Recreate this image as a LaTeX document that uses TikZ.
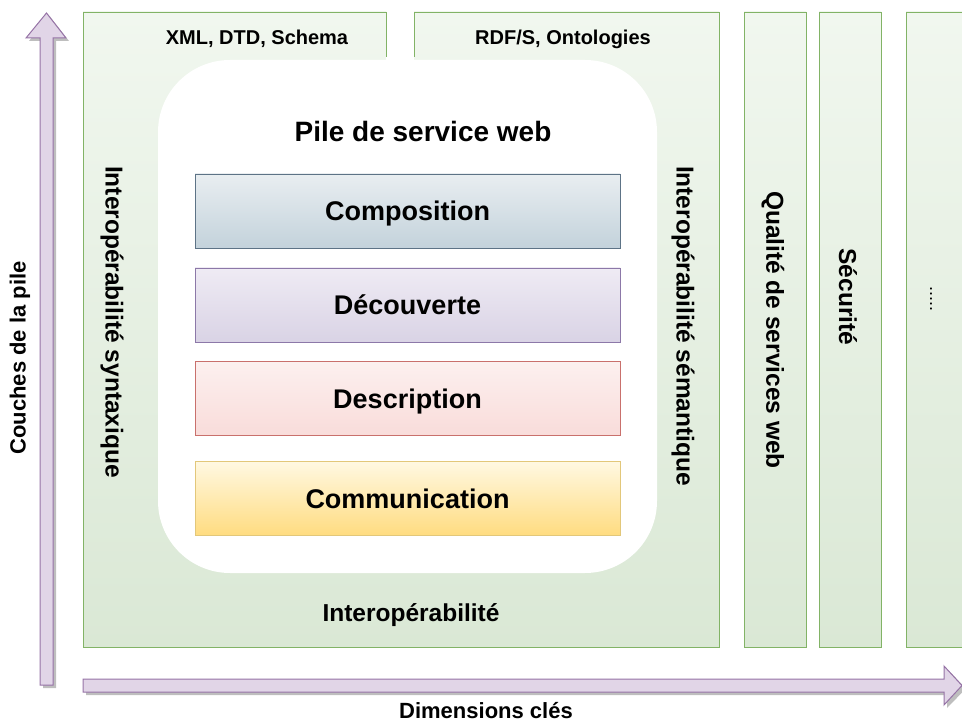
\documentclass[tikz,border=0pt]{standalone}
\usepackage{fontspec}
\setmainfont{Liberation Sans}
\definecolor{grnfill}{HTML}{DAE8D5}
\definecolor{grnlight}{HTML}{F1F7EF}
\definecolor{grnline}{HTML}{82B366}
\definecolor{purfill}{HTML}{E1D5E7}
\definecolor{purline}{HTML}{9673A6}
\definecolor{shadowgray}{HTML}{BEBEBE}
\definecolor{compoline}{HTML}{5D7386}
\definecolor{compotop}{HTML}{E9EEF1}
\definecolor{compobot}{HTML}{C3D2DB}
\definecolor{decoline}{HTML}{8C78A8}
\definecolor{decotop}{HTML}{EFEBF4}
\definecolor{decobot}{HTML}{D9D3E5}
\definecolor{descline}{HTML}{C9706C}
\definecolor{desctop}{HTML}{FCF0EF}
\definecolor{descbot}{HTML}{F9DCDA}
\definecolor{commline}{HTML}{E2C77A}
\definecolor{commtop}{HTML}{FFF8E2}
\definecolor{commbot}{HTML}{FFDC80}
\begin{document}
\begin{tikzpicture}[x=1pt, y=-1pt]
  \tikzstyle{dimbox}=[draw=grnline, top color=grnlight, bottom color=grnfill, line width=0.8pt]
  \tikzstyle{layer}=[draw, line width=0.9pt, minimum width=425pt, minimum height=74pt,
    text height=19pt, text depth=0pt, font=\fontsize{27}{30}\selectfont\bfseries]
  \tikzstyle{biglabel}=[font=\fontsize{24.5}{28}\selectfont\bfseries]
  \tikzstyle{tablabel}=[font=\fontsize{20}{24}\selectfont\bfseries]
  \tikzstyle{axislabel}=[font=\fontsize{22}{26}\selectfont\bfseries]
  \tikzstyle{axisarrow}=[draw=purline, fill=purfill, line width=1pt]
  \useasboundingbox (0,0) rectangle (962,722);
  \fill[shadowgray] (43,688) -- (43,41) -- (29,41) -- (49.5,16) -- (69,41) -- (56,41) -- (56,688) -- cycle;
  \path[axisarrow] (40,685) -- (40,38) -- (26,38) -- (46.5,13) -- (66,38) -- (53,38) -- (53,685) -- cycle;
  \fill[shadowgray] (86,682) -- (947,682) -- (947,669) -- (966,688.5) -- (947,708) -- (947,695) -- (86,695) -- cycle;
  \path[axisarrow] (83,679) -- (944,679) -- (944,666) -- (962,685.5) -- (944,705) -- (944,692) -- (83,692) -- cycle;
  \path[dimbox] (83,12) rectangle (719,647);
  \fill[white] (386,10) rectangle (414,60);
  \draw[grnline, line width=0.8pt] (386,12) -- (386,57);
  \draw[grnline, line width=0.8pt] (414,12) -- (414,57);
  \fill[white, rounded corners=72pt] (158,60) rectangle (657,573);
  \path[dimbox] (744,12) rectangle (806,647);
  \path[dimbox] (819,12) rectangle (881,647);
  \path[dimbox] (975,12) -- (906,12) -- (906,647) -- (975,647);
  \node[tablabel] (xml) at (257,39) {XML, DTD, Schema};
  \node[tablabel] (rdf) at (563,39) {RDF/S, Ontologies};
  \node[font=\fontsize{28}{32}\selectfont\bfseries] (pile) at (423,131) {Pile de service web};
  \node[layer, draw=compoline, top color=compotop, bottom color=compobot] (compo) at (407.5,211) {Composition};
  \node[layer, draw=decoline, top color=decotop, bottom color=decobot] (decou) at (407.5,305) {Découverte};
  \node[layer, draw=descline, top color=desctop, bottom color=descbot] (descr) at (407.5,398.5) {Description};
  \node[layer, draw=commline, top color=commtop, bottom color=commbot] (commu) at (407.5,498.5) {Communication};
  \node[biglabel, rotate=-90] (synt) at (112,322) {Interopérabilité syntaxique};
  \node[biglabel, rotate=-90] (sema) at (683,326) {Interopérabilité sémantique};
  \node[biglabel] (interop) at (411,615) {Interopérabilité};
  \node[biglabel, rotate=-90] (qos) at (773,330) {Qualité de services web};
  \node[biglabel, rotate=-90] (secu) at (848,297) {Sécurité};
  \node[font=\fontsize{18}{20}\selectfont, rotate=-90] (etc) at (931,299) {.....};
  \node[axislabel, rotate=90] (couches) at (20,358) {Couches de la pile};
  \node[axislabel] (dims) at (486,711) {Dimensions clés};
\end{tikzpicture}
\end{document}
